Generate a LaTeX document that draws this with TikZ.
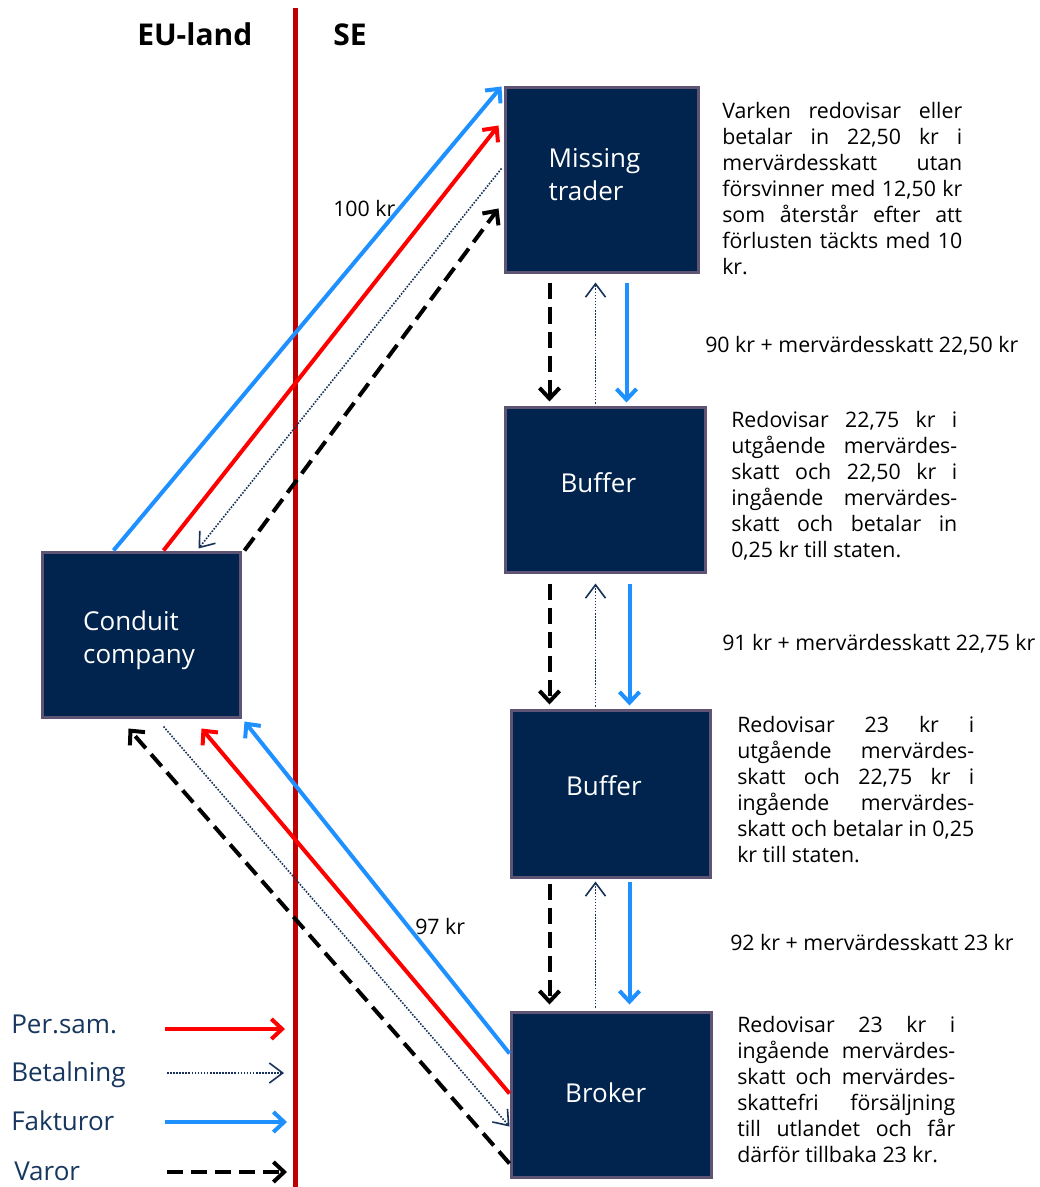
\documentclass[tikz,border=0pt]{standalone}
\usepackage{fontspec}
\setmainfont{Open Sans}
\usetikzlibrary{arrows.meta,calc}
\definecolor{boxfill}{RGB}{0,36,77}
\definecolor{boxborder}{RGB}{96,84,116}
\definecolor{arrblue}{RGB}{30,144,255}
\definecolor{arrred}{RGB}{255,0,0}
\definecolor{linered}{RGB}{192,0,0}
\definecolor{legnavy}{RGB}{23,55,94}
\definecolor{dotnavy}{RGB}{23,50,90}
\newcommand{\jl}[2]{\makebox[\dimexpr #1pt*3/4\relax][s]{\strut #2}}
\newcommand{\jlast}[2]{\makebox[\dimexpr #1pt*3/4\relax][l]{\strut #2}}
\tikzset{
  entity/.style={draw=boxborder, line width=2.25pt, fill=boxfill, text=white,
    font=\fontsize{19.5}{25}\selectfont, align=left, inner sep=0pt},
  hdr/.style={font=\fontsize{22.5}{26}\selectfont\bfseries, inner sep=0pt},
  lbl/.style={font=\fontsize{16}{19.5}\selectfont, inner sep=0pt},
  para/.style={font=\fontsize{16}{19.5}\selectfont, inner sep=0pt, align=left, anchor=north west},
  leg/.style={font=\fontsize{19.5}{24}\selectfont, text=legnavy, inner sep=0pt, anchor=base west},
  fak/.style={draw=arrblue, line width=3pt, -{Straight Barb[length=8pt,width=15pt]}},
  per/.style={draw=arrred, line width=3pt, -{Straight Barb[length=8pt,width=15pt]}},
  bet/.style={draw=dotnavy, line width=1.2pt, dash pattern=on 1.2pt off 1.1pt, -{Straight Barb[length=10pt,width=15pt]}},
  var/.style={draw=black, line width=3pt, dash pattern=on 12pt off 6pt, -{Straight Barb[length=8pt,width=15pt]}}
}
\begin{document}
\begin{tikzpicture}[x=0.75pt,y=-0.75pt]
\useasboundingbox (0,0) rectangle (1039,1187);
\fill[white] (0,0) rectangle (1039,1187);

% border line
\draw[linered, line width=3.75pt] (295,8) -- (295,1187);

% headers
\node[hdr, anchor=base west] (eu) at (137,46) {EU-land};
\node[hdr, anchor=base west] (se) at (333,46) {SE};

% boxes
\node[entity, minimum width=144.75pt, minimum height=138.75pt] (mt) at (601.5,180.5) {Missing\hspace{10.5pt}\mbox{}\\trader\rule[-9pt]{0pt}{9pt}};
\node[entity, minimum width=150pt, minimum height=123.75pt] (b1) at (605,489.5) {Buffer\hspace{10pt}\rule[-10.5pt]{0pt}{10.5pt}};
\node[entity, minimum width=149.25pt, minimum height=125.25pt] (b2) at (610.5,793.5) {Buffer\hspace{10pt}\rule[-12pt]{0pt}{12pt}};
\node[entity, minimum width=150pt, minimum height=123.75pt] (br) at (611,1094.5) {Broker\hspace{8pt}\rule[-3pt]{0pt}{3pt}};
\node[entity, minimum width=148.5pt, minimum height=123.75pt] (cc) at (141,634.5) {\rule{0pt}{23pt}Conduit\\company\hspace{3pt}\mbox{}};

% top diagonals
\draw[fak] ($(cc.north west)+(73,0)$) -- ($(mt.north west)+(-2,0)$);
\draw[per] ($(cc.north west)+(123,0)$) -- ($(mt.north west)+(-5,39)$);
\draw[bet] ($(mt.north west)+(-2,82)$) -- ($(cc.north west)+(158,-2)$);
\draw[var] ($(cc.north east)+(3,0)$) -- ($(mt.north west)+(-5,122)$);

% bottom diagonals
\draw[fak] ($(br.north west)+(0,43)$) -- ($(cc.south east)+(3,3)$);
\draw[per] ($(br.north west)+(0,83)$) -- ($(cc.south west)+(161,10)$);
\draw[bet] ($(cc.south west)+(123,8)$) -- ($(br.north west)+(0,116)$);
\draw[var] ($(br.north west)+(0,153)$) -- ($(cc.south west)+(88,10)$);

% verticals mt -> b1
\draw[var] ($(mt.south west)+(46,9)$) -- ($(b1.north west)+(46,-4)$);
\draw[bet] ($(b1.north west)+(92,-2)$) -- ($(mt.south west)+(92,8)$);
\draw[fak] ($(mt.south west)+(123,9)$) -- ($(b1.north west)+(123,-3)$);
% b1 -> b2
\draw[var] ($(b1.south west)+(46,10)$) -- ($(b2.north west)+(40,-4)$);
\draw[bet] ($(b2.north west)+(86,-2)$) -- ($(b1.south west)+(92,10)$);
\draw[fak] ($(b1.south west)+(126,10)$) -- ($(b2.north west)+(120,-3)$);
% b2 -> br
\draw[var] ($(b2.south west)+(40,5)$) -- ($(br.north west)+(40,-6)$);
\draw[bet] ($(br.north west)+(86,-3)$) -- ($(b2.south west)+(86,3)$);
\draw[fak] ($(b2.south west)+(120,3)$) -- ($(br.north west)+(120,-6)$);

% labels
\node[lbl, anchor=base west] (l100) at (333,217) {100 kr};
\node[lbl, anchor=base west] (l97) at (415,934) {97 kr};
\node[lbl, anchor=base west] (l90) at (705,352) {90 kr + mervärdesskatt 22,50 kr};
\node[lbl, anchor=base west] (l91) at (722,650) {91 kr + mervärdesskatt 22,75 kr};
\node[lbl, anchor=base west] (l92) at (730,950) {92 kr + mervärdesskatt 23 kr};

% paragraphs
\node[para] (pmt) at (722,100) {\jl{240}{Varken redovisar eller}\\
\jl{240}{betalar in 22,50 kr i}\\
\jl{240}{mervärdesskatt utan}\\
\jl{240}{försvinner med 12,50 kr}\\
\jl{240}{som återstår efter att}\\
\jl{240}{förlusten täckts med 10}\\
\jlast{240}{kr.}};
\node[para] (pb1) at (731,409) {\jl{226}{Redovisar 22,75 kr i}\\
\jl{226}{utgående mervärdes-}\\
\jl{226}{skatt och 22,50 kr i}\\
\jl{226}{ingående mervärdes-}\\
\jl{226}{skatt och betalar in}\\
\jlast{226}{0,25 kr till staten.}};
\node[para] (pb2) at (737,714) {\jl{237}{Redovisar 23 kr i}\\
\jl{237}{utgående mervärdes-}\\
\jl{237}{skatt och 22,75 kr i}\\
\jl{237}{ingående mervärdes-}\\
\jl{237}{skatt och betalar in 0,25}\\
\jlast{237}{kr till staten.}};
\node[para] (pbr) at (737,1014) {\jl{218}{Redovisar 23 kr i}\\
\jl{218}{ingående mervärdes-}\\
\jl{218}{skatt och mervärdes-}\\
\jl{218}{skattefri försäljning}\\
\jl{218}{till utlandet och får}\\
\jlast{218}{därför tillbaka 23 kr.}};

% legend
\node[leg] (lg1) at (11,1033) {Per.sam.};
\node[leg] (lg2) at (11,1081) {Betalning};
\node[leg] (lg3) at (11,1130) {Fakturor};
\node[leg] (lg4) at (14,1180) {Varor};
\coordinate (a1s) at (165,1029); \coordinate (a1e) at (285,1029);
\coordinate (a2s) at (167,1073); \coordinate (a2e) at (284,1073);
\coordinate (a3s) at (165,1122); \coordinate (a3e) at (287,1122);
\coordinate (a4s) at (167,1172); \coordinate (a4e) at (287,1172);
\draw[per] (a1s) -- (a1e);
\draw[bet] (a2s) -- (a2e);
\draw[fak] (a3s) -- (a3e);
\draw[var] (a4s) -- (a4e);
\end{tikzpicture}
\end{document}
